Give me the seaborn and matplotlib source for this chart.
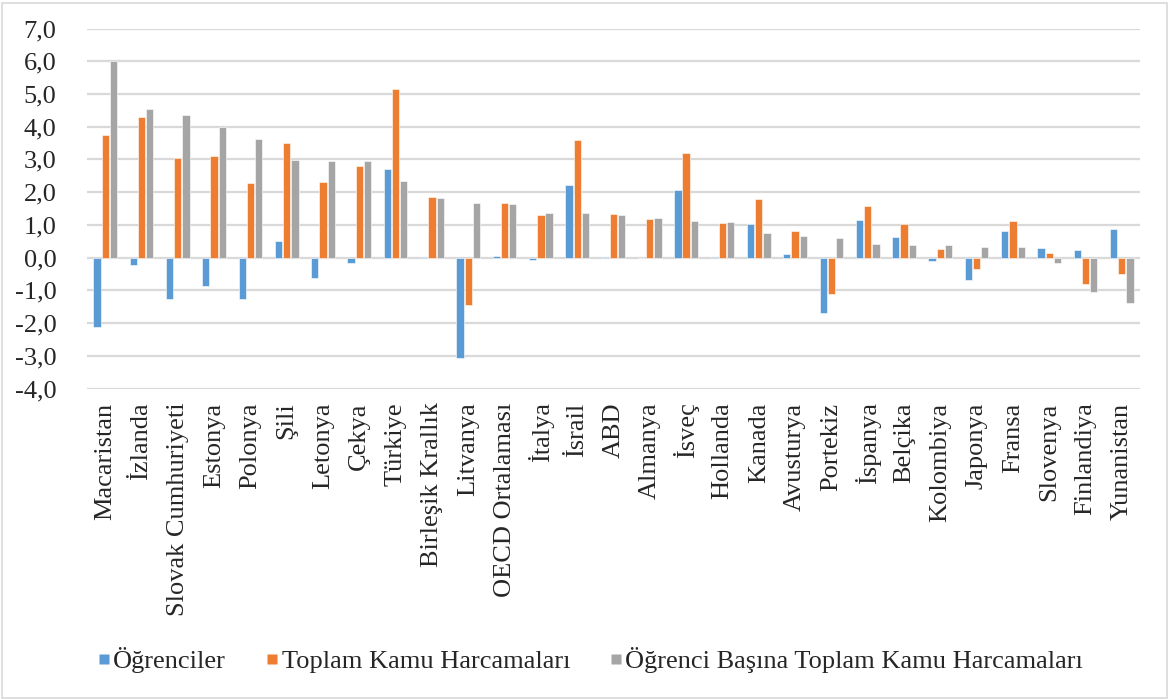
import matplotlib
matplotlib.use("Agg")
import matplotlib.pyplot as plt
import seaborn as sns
import pandas as pd
from matplotlib.lines import Line2D
from matplotlib.patches import Rectangle
from matplotlib.ticker import FuncFormatter

countries = ["Macaristan", "İzlanda", "Slovak Cumhuriyeti", "Estonya", "Polonya", "Şili",
             "Letonya", "Çekya", "Türkiye", "Birleşik Krallık", "Litvanya", "OECD Ortalaması",
             "İtalya", "İsrail", "ABD", "Almanya", "İsveç", "Hollanda", "Kanada", "Avusturya",
             "Portekiz", "İspanya", "Belçika", "Kolombiya", "Japonya", "Fransa", "Slovenya",
             "Finlandiya", "Yunanistan"]

ogrenciler = [-2.11, -0.22, -1.27, -0.86, -1.25, 0.52, -0.63, -0.15, 2.70, 0.02, -3.07, 0.05,
              -0.06, 2.21, 0.03, 0.0, 2.06, 0.01, 1.03, 0.10, -1.70, 1.16, 0.63, -0.11, -0.67,
              0.80, 0.29, 0.24, 0.88]
toplam = [3.76, 4.30, 3.04, 3.09, 2.29, 3.51, 2.31, 2.79, 5.14, 1.86, -1.44, 1.66, 1.31, 3.60,
          1.33, 1.19, 3.20, 1.06, 1.78, 0.80, -1.11, 1.59, 1.04, 0.27, -0.35, 1.13, 0.15,
          -0.81, -0.50]
ogrenci_basina = [6.00, 4.55, 4.36, 3.99, 3.61, 2.97, 2.96, 2.95, 2.35, 1.82, 1.68, 1.64, 1.37,
                  1.36, 1.29, 1.20, 1.12, 1.08, 0.75, 0.67, 0.60, 0.42, 0.39, 0.37, 0.33, 0.33,
                  -0.15, -1.06, -1.38]

series_names = ["Öğrenciler", "Toplam Kamu Harcamaları", "Öğrenci Başına Toplam Kamu Harcamaları"]
colors = ["#5B9BD5", "#ED7D31", "#A5A5A5"]

rows = []
for name, vals in zip(series_names, [ogrenciler, toplam, ogrenci_basina]):
    for c, v in zip(countries, vals):
        rows.append({"Ülke": c, "Seri": name, "Değer": v})
df = pd.DataFrame(rows)

sns.set_theme(style="white")
plt.rcParams['font.family'] = ['Liberation Serif', 'DejaVu Serif']

fig = plt.figure(figsize=(11.69, 6.99), dpi=100)
ax = fig.add_axes([87/1169, 1-388.5/699, (1140-87)/1169, (388.5-28.5)/699])

sns.barplot(data=df, x="Ülke", y="Değer", hue="Seri", order=countries,
            hue_order=series_names, palette=colors, width=0.68, gap=0.12,
            edgecolor="white", linewidth=0.4, ax=ax, legend=False, saturation=1)

ax.set_ylim(-4, 7)
ax.set_xlim(-0.5, len(countries) - 0.5)
ax.set_yticks(range(-4, 8))
ax.yaxis.set_major_formatter(FuncFormatter(lambda v, p: f"{v:.1f}".replace(".", ",")))
ax.grid(axis="y", color="#d9d9d9", linewidth=1.6)
ax.set_axisbelow(True)
for s in ax.spines.values():
    s.set_visible(False)
ax.set_xlabel("")
ax.set_ylabel("")
ax.tick_params(axis="y", labelsize=19, pad=22, length=0)
ax.tick_params(axis="x", labelsize=19, pad=10, length=0, rotation=90)
for lab in ax.get_xticklabels():
    lab.set_verticalalignment("top")

handles = [Line2D([], [], marker="s", linestyle="none", markersize=6.5,
                  markerfacecolor=c, markeredgecolor="none") for c in colors]
fig.legend(handles, series_names, loc="center", bbox_to_anchor=(0.505, 0.056), ncol=3,
           frameon=False, fontsize=19, handlelength=0.5, handletextpad=0.1,
           columnspacing=1.5)

fig.patches.append(Rectangle((0.002, 0.002), 0.996, 0.994, transform=fig.transFigure,
                             fill=False, edgecolor="#d9d9d9", linewidth=1.2))

fig.savefig("out.png", dpi=100)
